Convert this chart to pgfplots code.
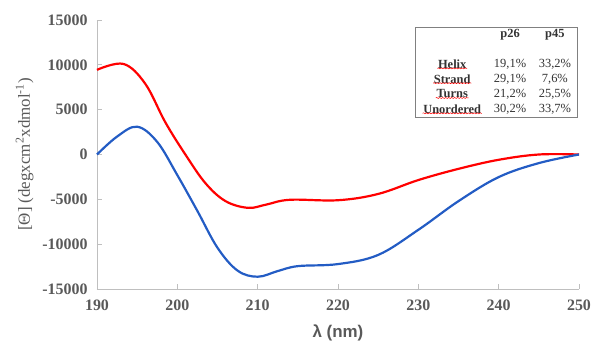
\documentclass[border=0pt]{standalone}
\usepackage{pgfplots}
\pgfplotsset{compat=1.18}
\usepackage{fontspec}
\setmainfont{Liberation Serif}
\setsansfont{Liberation Sans}
\usetikzlibrary{decorations.pathmorphing}
\definecolor{redline}{RGB}{255,0,0}
\definecolor{blueline}{RGB}{35,92,196}
\definecolor{axgray}{RGB}{191,191,191}
\definecolor{txtgray}{RGB}{89,89,89}
\tikzset{
  rowlab/.style={font=\fontsize{12.5}{14}\selectfont\bfseries, text=black!80, inner sep=0.5pt,
    append after command={
      [draw=none] (\tikzlastnode.base west) edge[red, line width=0.5pt, decorate, decoration={snake, amplitude=0.5pt, segment length=3pt}]
      (\tikzlastnode.base east)}},
  tabval/.style={font=\fontsize{12.5}{14}\selectfont, text=black!80, inner sep=0.5pt},
}
\begin{document}
\begin{tikzpicture}
\begin{axis}[
  scale only axis,
  width=482bp, height=269bp,
  xmin=190, xmax=250, ymin=-15000, ymax=15000,
  xtick={190,200,...,250},
  ytick={-15000,-10000,...,15000},
  scaled ticks=false,
  separate axis lines,
  axis x line*=bottom, axis y line*=left,
  axis line style={axgray, line width=0.8pt},
  tick style={axgray, line width=0.8pt},
  tick align=inside,
  major tick length=5bp,
  /pgf/number format/assume math mode=true,
  /pgf/number format/1000 sep={},
  ticklabel style={font=\fontsize{16}{18}\selectfont\bfseries, text=txtgray},
  yticklabel style={xshift=-6bp},
  xticklabel style={yshift=-7bp},
  xlabel={\sffamily\bfseries λ (nm)},
  ylabel={[Θ] (degxcm\textsuperscript{2}xdmol\textsuperscript{-1})},
  xlabel style={font=\fontsize{17}{19}\selectfont, text=txtgray, yshift=-8bp},
  ylabel style={font=\fontsize{17}{19}\selectfont, text=txtgray, yshift=2bp},
  clip=false,
]
\addplot[redline, line width=2.2pt, smooth, tension=0.6] coordinates {
(190,9440) (193.3,10100) (196,7900) (198.5,3600) (201,0) (203.5,-3200)
(206,-5200) (208.8,-5950) (211,-5600) (214,-5050) (220,-5100) (225,-4400)
(230,-2850) (235,-1600) (240,-590) (245,0) (250,0)};
\addplot[blueline, line width=2.2pt, smooth, tension=0.6] coordinates {
(190,0) (192.5,2000) (195,3100) (197.5,1400) (200,-2300) (202.5,-6300)
(205,-10400) (207.5,-12950) (210,-13630) (212.5,-13000) (215,-12450)
(220,-12220) (225,-11200) (230,-8400) (235,-5200) (240,-2520) (245,-960)
(250,0)};
% inset table
\draw[gray, line width=0.6pt] (rel axis cs:0.660,0.639) rectangle (rel axis cs:0.996,0.974);
\node[tabval, font=\fontsize{12.5}{14}\selectfont\bfseries] at (rel axis cs:0.857,0.944) {p26};
\node[tabval, font=\fontsize{12.5}{14}\selectfont\bfseries] at (rel axis cs:0.950,0.944) {p45};
\node[rowlab] at (rel axis cs:0.737,0.836) {Helix};
\node[rowlab] at (rel axis cs:0.737,0.781) {Strand};
\node[rowlab] at (rel axis cs:0.737,0.725) {Turns};
\node[rowlab] at (rel axis cs:0.737,0.669) {Unordered};
\node[tabval] at (rel axis cs:0.857,0.836) {19,1\%};
\node[tabval] at (rel axis cs:0.950,0.836) {33,2\%};
\node[tabval] at (rel axis cs:0.857,0.781) {29,1\%};
\node[tabval] at (rel axis cs:0.950,0.781) {7,6\%};
\node[tabval] at (rel axis cs:0.857,0.725) {21,2\%};
\node[tabval] at (rel axis cs:0.950,0.725) {25,5\%};
\node[tabval] at (rel axis cs:0.857,0.669) {30,2\%};
\node[tabval] at (rel axis cs:0.950,0.669) {33,7\%};
\end{axis}
\pgfresetboundingbox
\path (current axis.south west) ++(-97bp,-52bp) rectangle ++(600bp,341bp);
\end{tikzpicture}
\end{document}
